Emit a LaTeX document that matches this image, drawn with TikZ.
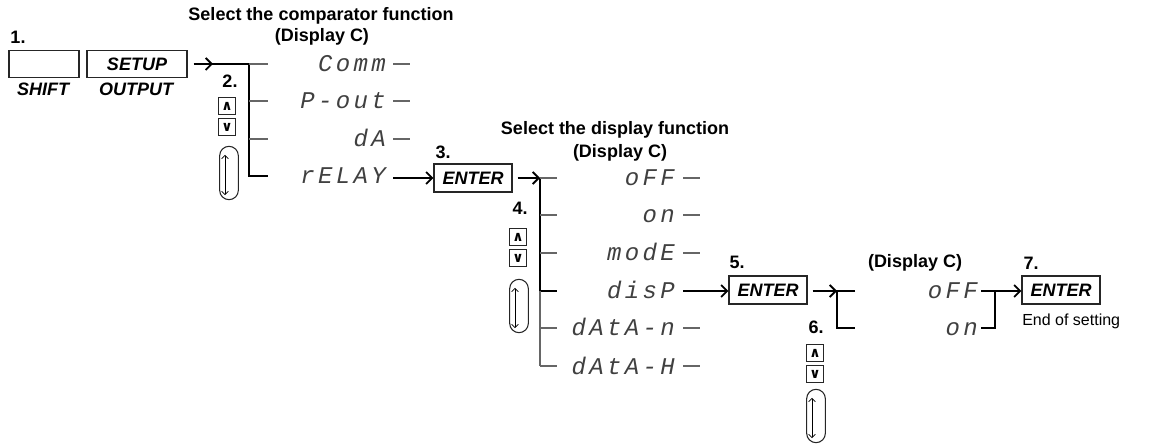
\documentclass[tikz,border=0pt]{standalone}
\usepackage{fontspec}
\setmainfont{Liberation Sans}
\newfontfamily\segf[LetterSpace=14]{Liberation Mono}
\newfontfamily\symf{DejaVu Sans}
\usetikzlibrary{arrows.meta,calc}
\begin{document}
\begin{tikzpicture}[x=0.75pt,y=-0.75pt,
  lbl/.style={font=\fontsize{13.5}{15}\selectfont\bfseries, inner sep=0},
  keylbl/.style={font=\fontsize{13.5}{15}\selectfont\bfseries\itshape, inner sep=0},
  keybox/.style={draw=black!85, line width=0.8pt, font=\fontsize{13.5}{15}\selectfont\bfseries\itshape, inner sep=0, minimum height=20pt},
  enterbox/.style={keybox, minimum width=58.5pt, minimum height=21pt},
  arrbox/.style={draw=black!85, line width=0.8pt, minimum width=12.5pt, minimum height=12.5pt, inner sep=0, font=\symf\bfseries\fontsize{10.5}{10.5}\selectfont},
  ovalbox/.style={draw=black!85, line width=0.8pt, minimum width=14pt, minimum height=40pt, rounded corners=7pt, inner sep=0},
  seg/.style={font=\segf\itshape\fontsize{18}{18}\selectfont, text=black!75, anchor=base east, inner sep=0},
  thick line/.style={line width=1.9pt},
  stub/.style={line width=0.8pt, draw=black!60},
  arr/.style={line width=1.4pt, -{Straight Barb[length=4.5pt,width=9pt,line width=1.4pt]}},
  dbl/.style={line width=0.6pt, {Straight Barb[length=2.5pt,width=5pt]}-{Straight Barb[length=2.5pt,width=5pt]}},
  plain/.style={font=\fontsize{12}{14}\selectfont, inner sep=0}
]
\useasboundingbox (0,0) rectangle (1151,448);

% ---- step 1
\node[lbl] (n1) at (18,37) {1.};
\node[keybox, minimum width=52.5pt] (shift) at (44,64) {};
\node[keybox, minimum width=75pt] (setup) at (137,64) {SETUP};
\node[keylbl] (shiftl) at (43,89) {SHIFT};
\node[keylbl] (outl) at (136,89) {OUTPUT};

% ---- titles
\node[lbl] (t1) at (321,16) {Select the comparator function};
\node[lbl] (d1) at (322,37) {(Display C)};

% ---- step 2
\coordinate (v2top) at (249,64);
\coordinate (v2bot) at (249,176);
\coordinate (a2) at (213,64);
\draw[arr] ($(setup.east)+(6,0)$) -- (a2);
\draw[thick line] ($(a2)+(-3,0)$) -- (v2top) -- (v2bot) -- (268,176);
\coordinate (s21) at (268,64);
\coordinate (s22) at (268,101);
\coordinate (s23) at (268,139);
\coordinate (v22) at (249,101);
\coordinate (v23) at (249,139);
\draw[stub] (v2top) -- (s21);
\draw[stub] (v22) -- (s22);
\draw[stub] (v23) -- (s23);
\node[lbl] (n2) at (230,81) {2.};
\node[arrbox] (up2) at (227,106) {∧};
\node[arrbox] (dn2) at (227,127) {∨};
\node[ovalbox] (ov2) at (229,173) {};
\draw[dbl] ($(ov2.north)+(-4,9)$) -- ($(ov2.south)+(-4,-5)$);

\node[seg] (comm) at (386,72) {Comm};
\node[seg] (pout) at (386,109) {P-out};
\node[seg] (da) at (386,147) {dA};
\node[seg] (relay) at (386,184) {rELAY};
\foreach \n/\y in {comm/64,pout/101,da/139}{
  \draw[stub] ($(\n.east|-{0,\y})+(7,0)$) -- ($(\n.east|-{0,\y})+(24,0)$);
}

% ---- step 3
\node[lbl] (n3) at (443,152) {3.};
\node[enterbox] (enter3) at (473,178) {ENTER};
\draw[arr] ($(relay.east|-{0,178})+(7,0)$) -- (enter3.west|-{0,178});

% ---- step 4
\node[lbl] (t2) at (615,130) {Select the display function};
\node[lbl] (d2) at (620,153) {(Display C)};
\coordinate (v4top) at (540,178);
\coordinate (v4mid) at (540,291);
\coordinate (v4bot) at (540,366);
\draw[arr] ($(enter3.east)+(5,0)$) -- (v4top);
\draw[thick line] (v4top) -- (v4mid) -- (557,291);
\draw[stub] (v4mid) -- (v4bot);
\foreach \y in {178,215,253,328,366}{
  \draw[stub] (540,\y) -- (557,\y);
}
\node[lbl] (n4) at (520,208) {4.};
\node[arrbox] (up4) at (518,237) {∧};
\node[arrbox] (dn4) at (518,258) {∨};
\node[ovalbox] (ov4) at (519,306) {};
\draw[dbl] ($(ov4.north)+(-4,9)$) -- ($(ov4.south)+(-4,-5)$);

\node[seg] (off1) at (675,186) {oFF};
\node[seg] (on1) at (675,223) {on};
\node[seg] (mode) at (675,261) {modE};
\node[seg] (disp) at (675,299) {disP};
\node[seg] (datan) at (675,336) {dAtA-n};
\node[seg] (datah) at (675,374) {dAtA-H};
\foreach \n/\y in {off1/178,on1/215,mode/253,datan/328,datah/366}{
  \draw[stub] ($(\n.east|-{0,\y})+(8,0)$) -- ($(\n.east|-{0,\y})+(25,0)$);
}

% ---- step 5
\node[lbl] (n5) at (737,262) {5.};
\node[enterbox] (enter5) at (768,290) {ENTER};
\draw[arr] ($(disp.east|-{0,291})+(8,0)$) -- (enter5.west|-{0,291});

% ---- step 6
\coordinate (v6top) at (837,291);
\coordinate (v6bot) at (837,328);
\draw[arr] ($(enter5.east)+(5,1)$) -- (v6top);
\draw[thick line] (855,291) -- (v6top) -- (v6bot) -- (855,328);
\node[lbl] (n6) at (816,327) {6.};
\node[arrbox] (up6) at (815,353) {∧};
\node[arrbox] (dn6) at (815,374) {∨};
\node[ovalbox] (ov6) at (816,416) {};
\draw[dbl] ($(ov6.north)+(-4,9)$) -- ($(ov6.south)+(-4,-5)$);

% ---- step 7
\node[lbl] (d3) at (915,263) {(Display C)};
\node[seg] (off2) at (978,299) {oFF};
\node[seg] (on2) at (978,336) {on};
\node[lbl] (n7) at (1031,263) {7.};
\node[enterbox] (enter7) at (1061,290) {ENTER};
\coordinate (j7) at (995,291);
\draw[arr] ($(off2.east|-{0,291})+(3,0)$) -- (enter7.west|-{0,291});
\draw[thick line] ($(on2.east|-{0,328})+(3,0)$) -- (995,328) -- (j7);
\node[plain, anchor=west] (end) at (1022,321) {End of setting};
\end{tikzpicture}
\end{document}
